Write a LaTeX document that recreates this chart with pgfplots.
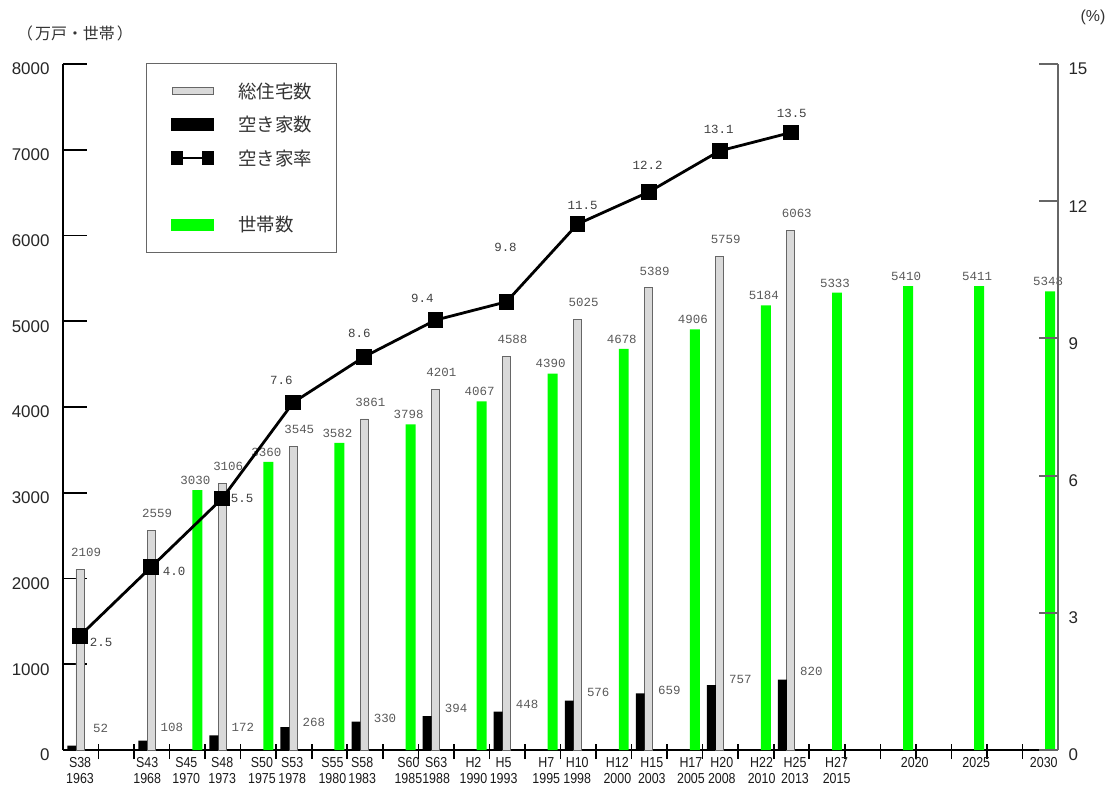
\documentclass[border=0pt]{standalone}
\usepackage{fontspec}
\usepackage{pgfplots}
\usepackage{pgfplotstable}
\pgfplotsset{compat=1.18}
\setmainfont{Liberation Sans}
\newfontfamily\cjk{Noto Sans CJK JP}
\newfontfamily\tickf[FakeStretch=0.86]{Liberation Sans}
\newfontfamily\numf{Liberation Mono}
\definecolor{hgray}{HTML}{D9D9D9}
\definecolor{hgreen}{HTML}{00FF00}
\definecolor{lblgray}{HTML}{5A5A5A}
\definecolor{axgray}{HTML}{666666}

% 総住宅数 (万戸), gray bars
\pgfplotstableread{
x y
0.48 2109
2.48 2559
4.48 3106
6.48 3545
8.48 3861
10.48 4201
12.48 4588
14.48 5025
16.48 5389
18.48 5759
20.48 6063
}\housetab

% 空き家数 (万戸), black bars; dy = label offset above bar top
\pgfplotstableread{
x y dy
0.245 52 17
2.245 108 13
4.245 172 8
6.245 268 5
8.245 330 3
10.245 394 8
12.245 448 7
14.245 576 8
16.245 659 3
18.245 757 6
20.245 820 8
}\vacanttab

% 世帯数 (万世帯), green bars
\pgfplotstableread{
x y
3.78 3030
5.78 3360
7.78 3582
9.78 3798
11.78 4067
13.78 4390
15.78 4678
17.78 4906
19.78 5184
21.78 5333
23.78 5410
25.78 5411
27.78 5348
}\hhtab

% 空き家率 (%)
\pgfplotstableread{
x y dx dy
0.48 2.5 21 -7
2.48 4.0 23 -4
4.48 5.5 20 0
6.48 7.6 -12 22
8.48 8.6 -5 23
10.48 9.4 -13 22
12.48 9.8 -1 54
14.48 11.5 5 19
16.48 12.2 -1 27
18.48 13.1 -1 21
20.48 13.5 1 19
}\ratetab

\begin{document}
\begin{tikzpicture}
\useasboundingbox (-63bp,-37bp) rectangle (1054bp,750bp);
\begin{axis}[
  at={(0,0)}, anchor=south west,
  scale only axis, width=995bp, height=686bp,
  xmin=0, xmax=28, ymin=0, ymax=8000,
  axis x line*=bottom, axis y line*=left,
  axis line style={black, line width=1.8bp},
  tick align=inside,
  major tick length=24bp,
  minor tick length=15bp,
  ytick={0,1000,...,8000},
  scaled y ticks=false,
  yticklabel style={font=\fontsize{17}{17}\selectfont, text=black!85,
    /pgf/number format/1000 sep={}, /pgf/number format/assume math mode=true,
    xshift=-10bp, yshift=-5bp},
  ytick style={black, line width=1.6bp},
  xtick={0.48,2.37,3.47,4.48,5.6,6.45,7.58,8.42,9.72,10.5,11.55,12.4,13.6,14.47,15.6,16.57,17.67,18.54,19.66,20.6,21.77,23.97,25.7,27.6},
  xticklabels={{S38\\1963},{S43\\1968},{S45\\1970},{S48\\1973},{S50\\1975},{S53\\1978},{S55\\1980},{S58\\1983},{S60\\1985},{S63\\1988},{H2\\1990},{H5\\1993},{H7\\1995},{H10\\1998},{H12\\2000},{H15\\2003},{H17\\2005},{H20\\2008},{H22\\2010},{H25\\2013},{H27\\2015},2020,2025,2030},
  xticklabel style={align=center, inner sep=0bp, font=\tickf\fontsize{14.5}{16.3}\selectfont, text=black!90, yshift=-7bp},
  every major x tick/.append style={draw=none},
  minor xtick={1,...,27},
  every minor x tick/.append style={black, line width=1.6bp, yshift=-9bp},
  ylabel={（\hspace{2bp}万戸・世帯\hspace{2bp}）},
  every axis y label/.style={at={(rel axis cs:0,1)}, anchor=center, xshift=12bp, yshift=31bp,
    font=\cjk\fontsize{16}{16}\selectfont, text=black!80},
]
\addplot[ybar, bar width=0.23, bar shift=0pt, fill=hgray, draw=axgray, line width=0.8bp,
  nodes near coords, point meta=explicit symbolic,
  nodes near coords style={anchor=center, xshift=6bp, yshift=17bp,
    font=\numf\fontsize{12.5}{12}\selectfont, text=lblgray}]
  table[x=x, y=y, meta=y]{\housetab};
\addplot[ybar, bar width=0.25, bar shift=0pt, fill=black, draw=none,
  visualization depends on={\thisrow{dy} \as \lbldy},
  nodes near coords, point meta=explicit symbolic,
  nodes near coords style={anchor=center, xshift=29bp, yshift=\lbldy bp,
    font=\numf\fontsize{12.5}{12}\selectfont, text=lblgray}]
  table[x=x, y=y, meta=y]{\vacanttab};
\addplot[ybar, bar width=0.28, bar shift=0pt, fill=hgreen, draw=none,
  nodes near coords, point meta=explicit symbolic,
  nodes near coords style={anchor=south, xshift=-2bp, yshift=2bp,
    font=\numf\fontsize{12.5}{12}\selectfont, text=lblgray}]
  table[x=x, y=y, meta=y]{\hhtab};
\end{axis}

\begin{axis}[
  at={(0,0)}, anchor=south west,
  scale only axis, width=995bp, height=686bp,
  xmin=0, xmax=28, ymin=0, ymax=15,
  hide x axis,
  axis y line*=right,
  y axis line style={axgray, line width=2bp},
  tick align=inside,
  major tick length=19bp,
  ytick={0,3,...,15},
  ytick style={axgray, line width=2bp},
  yticklabel style={font=\fontsize{17}{17}\selectfont, text=black!85,
    /pgf/number format/assume math mode=true, xshift=7bp, yshift=-5bp},
  ylabel={(\%)},
  every axis y label/.style={at={(rel axis cs:1,1)}, anchor=center, xshift=35bp, yshift=47bp,
    font=\fontsize{16}{16}\selectfont, text=black!80},
  legend style={at={(rel axis cs:0.0834,1.0015)}, anchor=north west,
    draw=axgray, line width=1.2bp, fill=white,
    inner xsep=24bp, inner ysep=19bp, row sep=16.5bp,
    nodes={inner sep=0bp},
    /tikz/every odd column/.append style={column sep=24bp},
    font=\cjk\fontsize{18.5}{18.5}\selectfont, text=black!80},
  legend cell align=left,
]
\addlegendimage{legend image code/.code={\draw[fill=hgray, draw=axgray, line width=0.8bp] (0bp,-3.8bp) rectangle (41bp,3.8bp);}}
\addlegendentry{総住宅数}
\addlegendimage{legend image code/.code={\fill[black] (0bp,-5.5bp) rectangle (41bp,5.5bp);}}
\addlegendentry{空き家数}
\addplot[black, line width=2.8bp, mark=square*, mark size=6.5bp,
  legend image code/.code={\draw[black, line width=2.5bp] (0bp,0bp) -- (41bp,0bp);
    \fill[black] (0bp,-6bp) rectangle (10bp,6bp); \fill[black] (31bp,-6bp) rectangle (41bp,6bp);},
  visualization depends on={\thisrow{dx} \as \lbldx},
  visualization depends on={\thisrow{dy} \as \lbldy},
  nodes near coords, point meta=explicit symbolic,
  nodes near coords style={anchor=center, xshift=\lbldx bp, yshift=\lbldy bp,
    font=\numf\fontsize{12.5}{12}\selectfont, text=black!75}]
  table[x=x, y=y, meta=y]{\ratetab};
\addlegendentry{空き家率}
\addlegendimage{empty legend}
\addlegendentry{\phantom{世}}
\addlegendimage{legend image code/.code={\fill[hgreen] (0bp,-5.5bp) rectangle (41bp,5.5bp);}}
\addlegendentry{世帯数}
\end{axis}
\end{tikzpicture}
\end{document}
